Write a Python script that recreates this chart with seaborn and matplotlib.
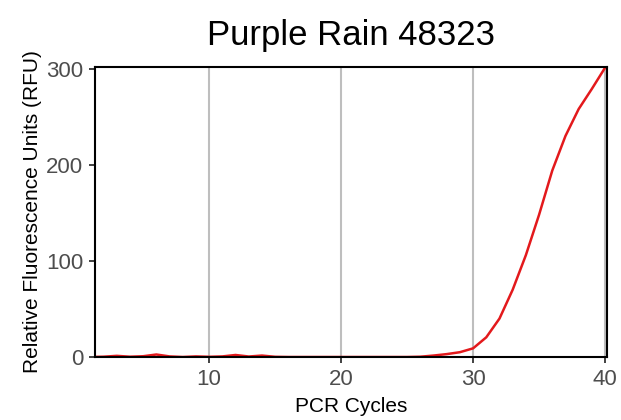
import numpy as np
import pandas as pd
import matplotlib
matplotlib.use("Agg")
import matplotlib.pyplot as plt
import seaborn as sns

# ── Data ──────────────────────────────────────────────────────────────────────
cycles = list(range(1, 41))
rfu = [0.0, 0.3, 1.2, 0.3, 0.8, 2.6, 0.6, 0.0, 0.6, 0.2,
       0.6, 2.1, 0.5, 1.5, 0.2, 0.0, 0.0, 0.0, 0.0, 0.0,
       0.0, 0.0, 0.0, 0.0, 0.0, 0.3, 1.5, 3.0, 5.0, 9.0,
       20.5, 40.0, 70.0, 106.0, 148.0, 194.0, 230.0, 258.0, 279.0, 301.0]
x_ticks = [10, 20, 30, 40]
y_ticks = [0, 100, 200, 300]
title = "Purple Rain 48323"

df = pd.DataFrame({"cycle": cycles, "rfu": rfu})

# ── Plot ──────────────────────────────────────────────────────────────────────
sns.set_theme(style="white")
plt.rcParams["font.family"] = ["Liberation Sans", "DejaVu Sans"]

fig = plt.figure(figsize=(6.21, 4.2), dpi=100)
ax = fig.add_axes([0.153, 0.15, 0.8245, 0.691])

sns.lineplot(data=df, x="cycle", y="rfu", ax=ax, color="#E3191C", lw=1.8)

ax.set_xlim(1.35, 40.15)
ax.set_ylim(0, 302)
ax.set_xticks(x_ticks)
ax.set_yticks(y_ticks)
ax.xaxis.grid(True, color="#BEBEBE", lw=1.5)
ax.yaxis.grid(False)
ax.set_axisbelow(True)

for s in ax.spines.values():
    s.set_color("black")
    s.set_linewidth(1.5)
    s.set_zorder(3)

ax.tick_params(axis="both", which="major", length=4.5, width=1.3, color="#333333",
               labelsize=16, labelcolor="#4D4D4D", direction="out",
               bottom=True, left=True, pad=4)

ax.set_xlabel("PCR Cycles", fontsize=15, color="black", labelpad=5)
ax.set_ylabel("Relative Fluorescence Units (RFU)", fontsize=15, color="black", labelpad=3)
ax.set_title(title, fontsize=25, color="black", pad=16)

fig.savefig("out.png", dpi=100)
